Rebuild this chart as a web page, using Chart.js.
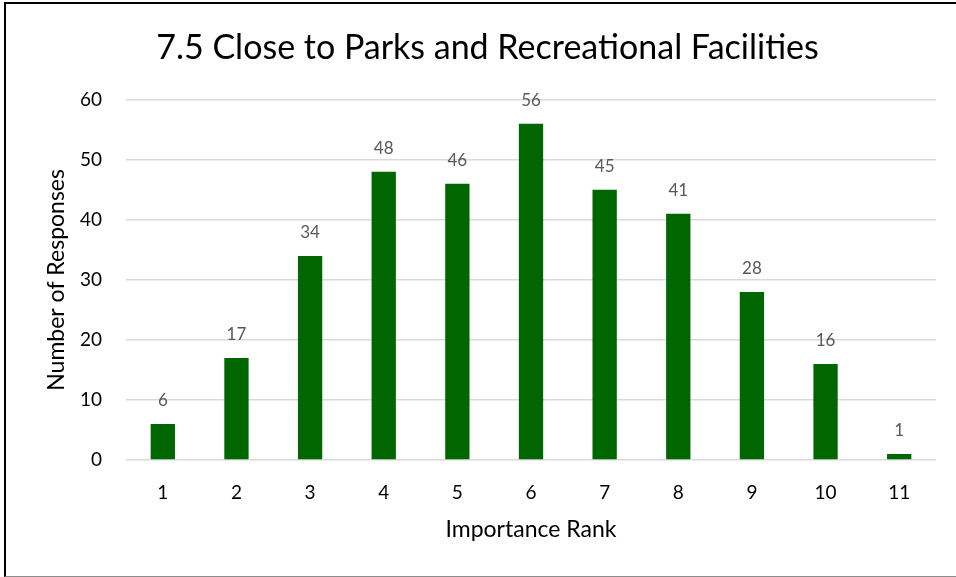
<!DOCTYPE html>
<html>
<head>
<meta charset="utf-8">
<script src="https://cdn.jsdelivr.net/npm/chart.js@4"></script>
<style>
  html, body { margin: 0; padding: 0; background: #fff; }
  #frame {
    position: absolute; left: 4px; top: 2px; width: 960px; height: 572px;
    border-left: 2px solid #000; border-top: 2px solid #000; border-bottom: 1px solid #8c8c8c;
  }
  #myChart { position: absolute; left: 0; top: 0; }
</style>
</head>
<body>
<div id="frame"></div>
<canvas id="myChart" width="956" height="577"></canvas>
<script>
const ranks = ["1", "2", "3", "4", "5", "6", "7", "8", "9", "10", "11"];
const responses = [6, 17, 34, 48, 46, 56, 45, 41, 28, 16, 1];
const titleText = "7.5 Close to Parks and Recreational Facilities";
const fontFamily = "Lato, 'Open Sans', sans-serif";

// draws the number above each bar
const barLabels = {
  id: "barLabels",
  afterDatasetsDraw(chart) {
    const ctx = chart.ctx;
    const meta = chart.getDatasetMeta(0);
    ctx.save();
    ctx.fillStyle = "#595959";
    ctx.font = "17px " + fontFamily;
    ctx.textAlign = "center";
    ctx.textBaseline = "middle";
    meta.data.forEach((bar, i) => {
      ctx.fillText(responses[i], bar.x, bar.y - 23);
    });
    ctx.restore();
  }
};

const ctx = document.getElementById("myChart").getContext("2d");

const chart = new Chart(ctx, {
  type: "bar",
  data: {
    labels: ranks,
    datasets: [
      {
        label: "Responses",
        data: responses,
        backgroundColor: "#006600",
        barPercentage: 0.66,
        categoryPercentage: 0.5
      }
    ]
  },
  options: {
    responsive: false,
    animation: false,
    layout: { padding: { left: 39, right: 20, top: 10, bottom: 10 } },
    plugins: {
      legend: { display: false },
      tooltip: { enabled: false },
      title: {
        display: true,
        text: titleText,
        color: "#000",
        font: { family: fontFamily, size: 34, weight: "normal" },
        padding: { top: 18, bottom: 31 }
      }
    },
    scales: {
      x: {
        grid: { display: false },
        border: { display: false },
        ticks: { color: "#000", font: { family: fontFamily, size: 19 }, padding: 13 },
        title: {
          display: true,
          text: "Importance Rank",
          color: "#000",
          font: { family: fontFamily, size: 23 },
          padding: { top: 4, bottom: 24 }
        },
        afterFit(scale) { scale.height = 107; }
      },
      y: {
        min: 0,
        max: 60,
        ticks: { stepSize: 10, color: "#000", font: { family: fontFamily, size: 19 }, padding: 24 },
        grid: { color: "#d9d9d9", lineWidth: 1.5, drawTicks: false },
        border: { display: false },
        title: {
          display: true,
          text: "Number of Responses",
          color: "#000",
          font: { family: fontFamily, size: 23 },
          padding: { top: 4, bottom: 4 }
        },
        afterFit(scale) { scale.width = 87; }
      }
    }
  },
  plugins: [barLabels]
});
</script>
</body>
</html>
